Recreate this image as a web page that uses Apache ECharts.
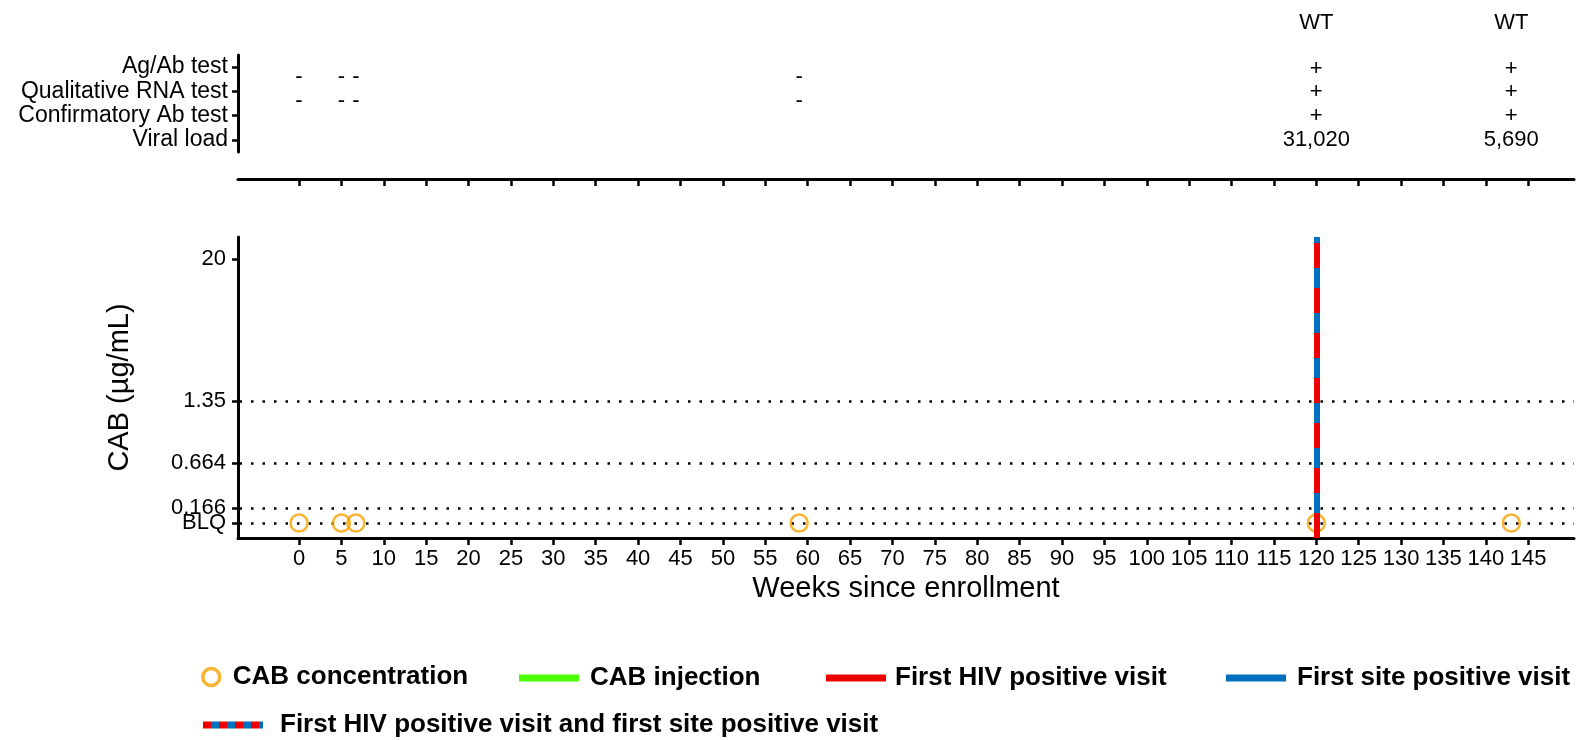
<!DOCTYPE html>
<html><head><meta charset="utf-8">
<script src="https://cdn.jsdelivr.net/npm/echarts@6/dist/echarts.min.js"></script>
<style>html,body{margin:0;padding:0;background:#fff}#c{width:1583px;height:740px}</style>
</head><body><div id="c"></div>
<script>
// ---------------- data ----------------
const xTickValues = [0,5,10,15,20,25,30,35,40,45,50,55,60,65,70,75,80,85,90,95,100,105,110,115,120,125,130,135,140,145];
const testRows = ['Ag/Ab test','Qualitative RNA test','Confirmatory Ab test','Viral load'];
const visitWeeks = [0, 5, 6.7, 59, 120, 143];
const agAbResults = ['-','-','-','-','+','+'];
const rnaResults = ['-','-','-','-','+','+'];
const confirmatoryResults = ['','','','','+','+'];
const viralLoads = ['','','','','31,020','5,690'];
const genotypes = ['','','','','WT','WT'];
const cabWeeks = [0, 5, 6.7, 59, 120, 143];
const cabConcentrations = ['BLQ','BLQ','BLQ','BLQ','BLQ','BLQ'];
const cabThresholds = [0.166, 0.664, 1.35];
const yTickLabels = ['BLQ','0.166','0.664','1.35','20'];
const injectionWeeks = [];
const firstHivPositiveWeek = 120;
const firstSitePositiveWeek = 120;

// ---------------- scale of the broken CAB axis (axis slot of each tick label) ----------------
const yStops = [0, 1, 4, 8.13, 17.6];
const Y_MIN = -1, Y_MAX = 19.07;
function yPos(v){ return yStops[yTickLabels.indexOf(String(v))]; }

const FONT = '"Liberation Sans", Arial, sans-serif';
const RED = '#EE0000', BLUE = '#0070C0', GREEN = '#4CFF00', ORANGE = '#F5A300';
const X_MIN = -7.2, X_MAX = 150.4;

// pattern for combined legend icon
const pc = document.createElement('canvas'); pc.width = 16; pc.height = 8;
const pctx = pc.getContext('2d');
pctx.fillStyle = RED; pctx.fillRect(0,0,8,8);
pctx.fillStyle = BLUE; pctx.fillRect(8,0,8,8);

const chart = echarts.init(document.getElementById('c'), null, {renderer:'canvas'});

function rowSeries(row, results, offset){
  const data = [];
  visitWeeks.forEach((w,i)=>{
    const t = results[i];
    if (t === '') return;
    data.push({value:[w,row,t], label:{offset: t === '-' ? [0,10] : offset}});
  });
  return {
    type:'scatter', xAxisIndex:0, yAxisIndex:0, symbol:'circle', symbolSize:0.1,
    itemStyle:{color:'transparent'}, silent:true, z:3,
    label:{show:true, position:'inside', formatter:p=>p.value[2], color:'#000', fontSize:22, fontFamily:FONT,
      textBorderWidth:0, textBorderColor:'transparent', opacity:1},
    data
  };
}

const axisLineStyle = {color:'#000', width:3};
const tickStyle = {color:'#000', width:2.5};

const combinedName = 'First HIV positive visit and first site positive visit';
const markLineVisit = [];
if (firstHivPositiveWeek === firstSitePositiveWeek) {
  markLineVisit.push({xAxis:firstSitePositiveWeek, lineStyle:{color:BLUE, width:6, type:'solid'}});
  markLineVisit.push({xAxis:firstHivPositiveWeek, lineStyle:{color:RED, width:6, type:[25,20]}});
}

const legendText = {color:'#000', fontSize:26, fontWeight:'bold', fontFamily:FONT, padding:[0,0,0,6]};
function legendAt(left, top, name, extra){
  return Object.assign({left, top, padding:0, itemGap:0, selectedMode:false, data:[name],
    itemWidth:60, itemHeight:7, icon:'rect', textStyle:legendText}, extra||{});
}

chart.setOption({
  animation:false,
  backgroundColor:'#fff',
  textStyle:{fontFamily:FONT},
  grid:[
    {left:238, right:9, top:55, height:97},
    {left:238, right:9, top:237, bottom:202}
  ],
  xAxis:[
    {gridIndex:0, type:'value', min:X_MIN, max:X_MAX, offset:27,
     axisLine:{show:true, onZero:false, lineStyle:axisLineStyle},
     axisTick:{show:true, length:7, lineStyle:tickStyle, customValues:xTickValues},
     axisLabel:{show:false}, splitLine:{show:false}},
    {gridIndex:1, type:'value', min:X_MIN, max:X_MAX,
     axisLine:{show:true, onZero:false, lineStyle:axisLineStyle},
     axisTick:{show:true, length:7, lineStyle:tickStyle, customValues:xTickValues},
     axisLabel:{show:true, customValues:xTickValues, color:'#000', fontSize:22, fontFamily:FONT, margin:10, hideOverlap:false},
     splitLine:{show:false},
     name:'Weeks since enrollment', nameLocation:'middle', nameGap:36,
     nameTextStyle:{color:'#000', fontSize:29, fontFamily:FONT}}
  ],
  yAxis:[
    {gridIndex:0, type:'category', data:testRows, inverse:true,
     axisLine:{show:true, onZero:false, lineStyle:axisLineStyle},
     axisTick:{show:true, alignWithLabel:true, length:6, lineStyle:tickStyle, interval:0},
     axisLabel:{color:'#000', fontSize:23, fontFamily:FONT, margin:10, interval:0, hideOverlap:false},
     splitLine:{show:false}},
    {gridIndex:1, type:'value', min:Y_MIN, max:Y_MAX,
     axisLine:{show:true, onZero:false, lineStyle:axisLineStyle},
     axisTick:{show:true, length:6, lineStyle:tickStyle, customValues:yStops},
     // an empty label at the axis minimum keeps the overlapping "0.166"/"BLQ" pair both visible
     axisLabel:{show:true, customValues:[Y_MIN].concat(yStops), color:'#000', fontSize:22, fontFamily:FONT, margin:12, hideOverlap:false,
       formatter:v=>{ const i = yStops.findIndex(s=>Math.abs(s-v)<1e-6); return i<0 ? '' : yTickLabels[i]; }},
     splitLine:{show:false},
     name:'CAB (µg/mL)', nameLocation:'middle', nameGap:104,
     nameTextStyle:{color:'#000', fontSize:29, fontFamily:FONT}}
  ],
  legend:[
    legendAt(201, 664, 'CAB concentration', {icon:'circle', itemWidth:17, itemHeight:17,
      data:[{name:'CAB concentration', itemStyle:{color:'transparent', borderColor:ORANGE, borderWidth:3.5}}],
      textStyle:Object.assign({}, legendText, {padding:[0,0,0,8]})}),
    legendAt(519, 665, 'CAB injection'),
    legendAt(826, 665, 'First HIV positive visit', {textStyle:Object.assign({}, legendText, {padding:[0,0,0,4]})}),
    legendAt(1226, 665, 'First site positive visit'),
    legendAt(203, 712, combinedName,
      {data:[{name:combinedName, itemStyle:{color:{image:pc, repeat:'repeat'}}}], textStyle:Object.assign({}, legendText, {padding:[0,0,0,12]})})
  ],
  series:[
    rowSeries(testRows[0], agAbResults, [0,2]),
    rowSeries(testRows[1], rnaResults, [0,1]),
    rowSeries(testRows[2], confirmatoryResults, [0,0]),
    rowSeries(testRows[3], viralLoads, [0,0]),
    rowSeries(testRows[0], genotypes, [0,-44]),
    {
      name:'CAB concentration', type:'scatter', xAxisIndex:1, yAxisIndex:1, z:3,
      symbol:'circle', symbolSize:17,
      itemStyle:{color:'transparent', borderColor:ORANGE, borderWidth:2.5},
      data: cabWeeks.map((w,i)=>[w, yPos(cabConcentrations[i])]),
      markLine:{silent:true, symbol:['none','none'], label:{show:false}, z:2,
        lineStyle:{color:'#000', width:2.5, type:[2.5,9], dashOffset:-1.5},
        emphasis:{disabled:true},
        data: cabThresholds.concat(['BLQ']).map(t=>({yAxis:yPos(t)}))}
    },
    {
      name:'CAB injection', type:'line', xAxisIndex:1, yAxisIndex:1,
      itemStyle:{color:GREEN}, lineStyle:{color:GREEN, width:6}, showSymbol:false,
      data: injectionWeeks.map(w=>[w, yPos('20')])
    },
    {
      name:'First HIV positive visit', type:'line', xAxisIndex:1, yAxisIndex:1,
      itemStyle:{color:RED}, lineStyle:{color:RED, width:6}, showSymbol:false, data:[]
    },
    {
      name:'First site positive visit', type:'line', xAxisIndex:1, yAxisIndex:1,
      itemStyle:{color:BLUE}, lineStyle:{color:BLUE, width:6}, showSymbol:false, data:[]
    },
    {
      name:combinedName, type:'line', xAxisIndex:1, yAxisIndex:1, z:5,
      itemStyle:{color:BLUE}, lineStyle:{color:BLUE, width:6}, showSymbol:false, data:[],
      markLine:{silent:true, symbol:['none','none'], label:{show:false}, z:6,
        emphasis:{disabled:true}, data:markLineVisit}
    }
  ]
});
</script></body></html>
